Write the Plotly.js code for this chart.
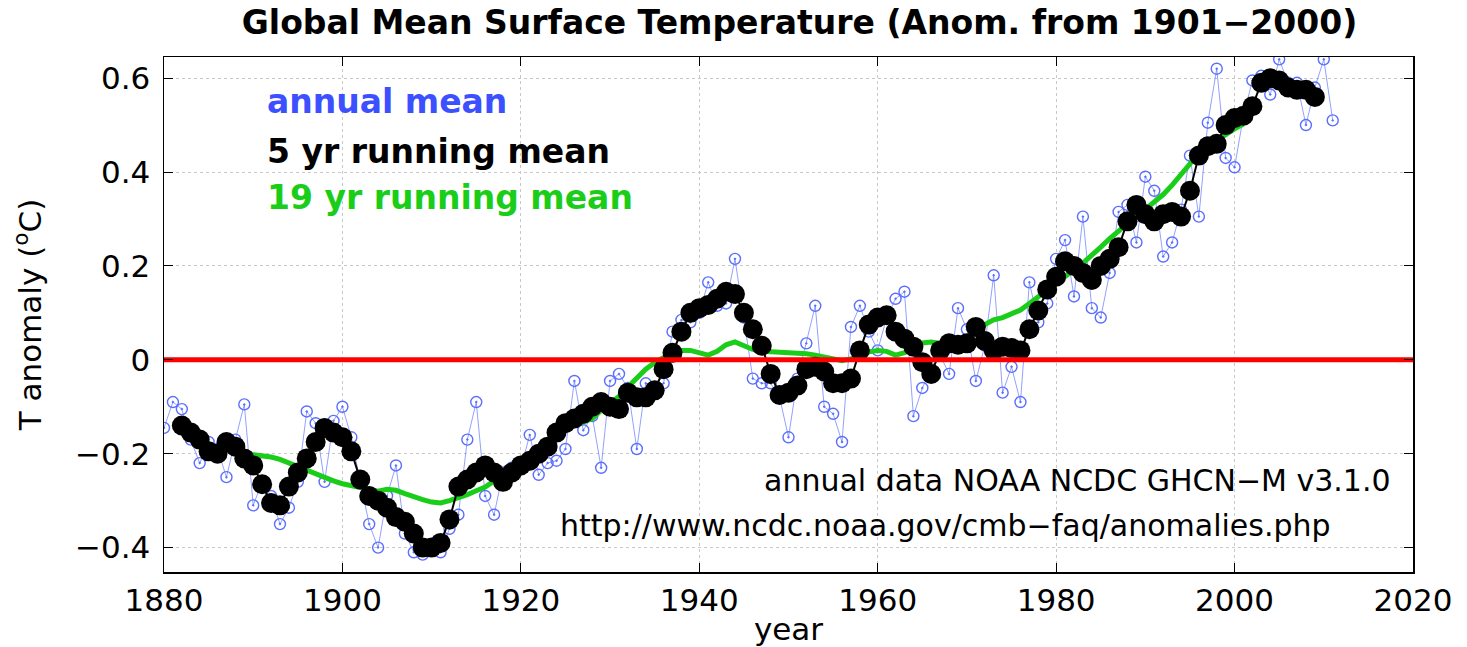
<!DOCTYPE html>
<html><head><meta charset="utf-8">
<script src="https://cdn.plot.ly/plotly-3.0.1.min.js"></script>
<style>html,body{margin:0;padding:0;background:#fff;}#chart{width:1467px;height:647px;}</style>
</head><body><div id="chart"></div>
<script>
// Annual mean anomalies 1880-2011
const annualYears = [];
for (let y = 1880; y <= 2011; y++) annualYears.push(y);
const annualMean = [
 -0.145,-0.09,-0.105,-0.17,-0.22,-0.175,-0.19,-0.25,-0.17,-0.095,
 -0.31,-0.26,-0.29,-0.35,-0.315,-0.26,-0.11,-0.135,-0.26,-0.13,
 -0.10,-0.165,-0.26,-0.35,-0.40,-0.29,-0.225,-0.37,-0.41,-0.415,
 -0.40,-0.41,-0.36,-0.33,-0.17,-0.09,-0.29,-0.33,-0.24,-0.23,
 -0.23,-0.16,-0.245,-0.22,-0.215,-0.19,-0.045,-0.15,-0.12,-0.23,
 -0.045,-0.03,-0.06,-0.19,-0.05,-0.07,-0.05,0.06,0.085,0.08,
 0.10,0.165,0.115,0.12,0.215,0.09,-0.04,-0.05,-0.05,-0.08,
 -0.165,-0.04,0.035,0.115,-0.10,-0.115,-0.175,0.07,0.115,0.06,
 0.02,0.09,0.13,0.145,-0.12,-0.06,-0.02,0.01,-0.03,0.11,
 0.065,-0.045,0.03,0.18,-0.07,-0.015,-0.09,0.165,0.08,0.12,
 0.215,0.255,0.135,0.305,0.11,0.09,0.185,0.315,0.33,0.25,
 0.39,0.36,0.22,0.25,0.32,0.435,0.305,0.505,0.62,0.43,
 0.41,0.52,0.595,0.605,0.565,0.64,0.59,0.59,0.50,0.58,
 0.64,0.51
];
// 5 yr running mean 1882-2009
const run5Years = [];
for (let y = 1882; y <= 2009; y++) run5Years.push(y);
const run5Mean = [
 -0.14,-0.155,-0.17,-0.195,-0.20,-0.175,-0.185,-0.21,
 -0.225,-0.265,-0.305,-0.31,-0.27,-0.24,-0.21,-0.175,-0.145,-0.155,
 -0.165,-0.195,-0.255,-0.29,-0.30,-0.315,-0.335,-0.345,-0.37,-0.40,
 -0.40,-0.39,-0.34,-0.27,-0.255,-0.24,-0.225,-0.24,-0.26,-0.24,
 -0.225,-0.215,-0.20,-0.185,-0.155,-0.135,-0.125,-0.115,-0.10,-0.09,
 -0.10,-0.105,-0.07,-0.08,-0.08,-0.065,-0.02,0.015,0.06,0.10,
 0.11,0.117,0.13,0.145,0.14,0.10,0.065,0.03,-0.03,-0.075,
 -0.07,-0.055,-0.02,-0.015,-0.025,-0.05,-0.05,-0.04,0.02,0.075,
 0.09,0.095,0.06,0.045,0.028,-0.005,-0.03,0.02,0.035,0.032,
 0.035,0.07,0.04,0.02,0.028,0.025,0.02,0.065,0.105,0.15,
 0.177,0.21,0.20,0.185,0.17,0.20,0.215,0.24,0.295,0.33,
 0.31,0.295,0.31,0.315,0.305,0.36,0.435,0.455,0.46,0.50,
 0.515,0.52,0.54,0.59,0.60,0.595,0.58,0.575,0.575,0.56
];
// 19 yr running mean 1889-2002
const run19Years = [];
for (let y = 1889; y <= 2002; y++) run19Years.push(y);
const run19Mean = [
 -0.200,
 -0.202,-0.204,-0.207,-0.212,-0.220,-0.228,-0.235,-0.242,-0.250,-0.258,
 -0.264,-0.268,-0.273,-0.278,-0.280,-0.276,-0.278,-0.285,-0.292,-0.298,
 -0.303,-0.305,-0.300,-0.294,-0.287,-0.279,-0.271,-0.258,-0.243,-0.228,
 -0.213,-0.198,-0.185,-0.172,-0.160,-0.150,-0.140,-0.133,-0.125,-0.108,
 -0.092,-0.078,-0.058,-0.038,-0.020,-0.006,0.005,0.012,0.020,0.020,
 0.015,0.010,0.018,0.032,0.038,0.030,0.022,0.018,0.017,0.017,
 0.016,0.015,0.013,0.010,0.006,0.000,-0.002,0.002,0.010,0.017,
 0.020,0.018,0.010,0.015,0.025,0.036,0.038,0.034,0.032,0.038,
 0.047,0.058,0.075,0.085,0.090,0.098,0.106,0.120,0.135,0.150,
 0.163,0.177,0.192,0.206,0.222,0.240,0.258,0.275,0.290,0.305,
 0.320,0.335,0.352,0.372,0.395,0.420,0.440,0.455,0.468,0.480,
 0.492,0.502
];
const xTicks = [1880,1900,1920,1940,1960,1980,2000,2020];
const yTicks = [-0.4,-0.2,0,0.2,0.4,0.6];
const yTickText = ['\u22120.4','\u22120.2','0','0.2','0.4','0.6'];
const refLineX = [1880, 2020];
const refLineY = [0, 0];

const FONT = 'DejaVu Sans, Liberation Sans, Arial, sans-serif';

const traces = [
 {x: annualYears, y: annualMean, type:'scatter', mode:'lines+markers',
  line:{color:'rgba(110,130,255,0.75)', width:1},
  marker:{symbol:'circle-open-dot', size:11, color:'rgb(90,110,255)', line:{width:1.4}},
  hoverinfo:'skip'},
 {x: run19Years, y: run19Mean, type:'scatter', mode:'lines',
  line:{color:'rgb(25,205,25)', width:5}, hoverinfo:'skip'},
 {x: run5Years, y: run5Mean, type:'scatter', mode:'lines+markers',
  line:{color:'#000', width:2},
  marker:{symbol:'circle', size:20, color:'#000'}, hoverinfo:'skip'},
 {x: refLineX, y: refLineY, type:'scatter', mode:'lines',
  line:{color:'rgb(255,0,0)', width:5}, hoverinfo:'skip'}
];

const layout = {
 width:1467, height:647,
 margin:{l:164, r:54, t:57, b:75},
 paper_bgcolor:'#fff', plot_bgcolor:'#fff',
 showlegend:false,
 font:{family:FONT, color:'#000'},
 title:{text:'<b>Global Mean Surface Temperature (Anom. from 1901\u22122000)</b>',
  font:{family:FONT, size:33, color:'#000'}, x:0.545, xanchor:'center', y:0.966, yanchor:'middle'},
 xaxis:{range:[1880,2020], tickvals:xTicks, ticktext:xTicks.map(String),
  showline:true, linecolor:'#000', linewidth:1.5, mirror:'ticks',
  ticks:'inside', ticklen:9, tickcolor:'#000',
  showgrid:true, gridcolor:'#c8c8c8', griddash:'dot', gridwidth:1, zeroline:false,
  tickfont:{family:FONT, size:31},
  title:{text:'year', font:{family:FONT, size:31}, standoff:2}},
 yaxis:{range:[-0.452,0.645], tickvals:yTicks, ticktext:yTickText,
  showline:true, linecolor:'#000', linewidth:1.5, mirror:'ticks',
  ticks:'inside', ticklen:9, tickcolor:'#000', ticklabelstandoff:6,
  showgrid:true, gridcolor:'#c8c8c8', griddash:'dot', gridwidth:1, zeroline:false,
  tickfont:{family:FONT, size:31},
  title:{text:'T anomaly (<sup>o</sup>C)', font:{family:FONT, size:31}, standoff:24}},
 annotations:[
  {xref:'paper', yref:'paper', x:0.081, y:0.913, xanchor:'left', yanchor:'middle', showarrow:false,
   text:'<b>annual mean</b>', font:{family:FONT, size:33, color:'rgb(60,80,255)'}},
  {xref:'paper', yref:'paper', x:0.081, y:0.816, xanchor:'left', yanchor:'middle', showarrow:false,
   text:'<b>5 yr running mean</b>', font:{family:FONT, size:33, color:'#000'}},
  {xref:'paper', yref:'paper', x:0.081, y:0.728, xanchor:'left', yanchor:'middle', showarrow:false,
   text:'<b>19 yr running mean</b>', font:{family:FONT, size:33, color:'rgb(25,205,25)'}},
  {xref:'paper', yref:'paper', x:0.984, y:0.177, xanchor:'right', yanchor:'middle', showarrow:false,
   text:'annual data NOAA NCDC GHCN\u2212M v3.1.0', font:{family:FONT, size:30, color:'#000'}},
  {xref:'paper', yref:'paper', x:0.936, y:0.091, xanchor:'right', yanchor:'middle', showarrow:false,
   text:'http://www.ncdc.noaa.gov/cmb\u2212faq/anomalies.php', font:{family:FONT, size:30, color:'#000'}}
 ]
};
Plotly.newPlot('chart', traces, layout, {staticPlot:true, displayModeBar:false});
</script>
</body></html>
